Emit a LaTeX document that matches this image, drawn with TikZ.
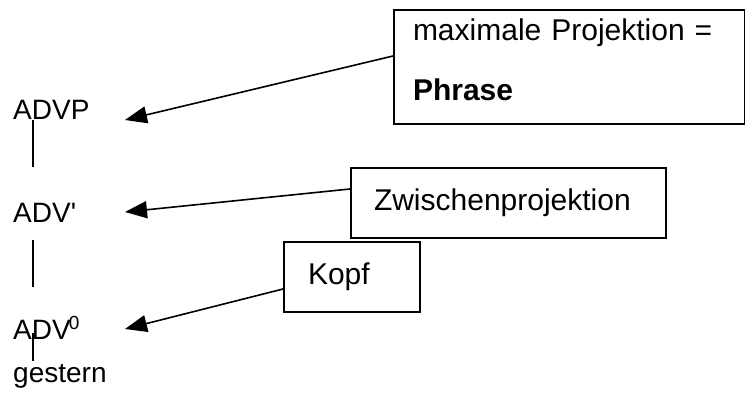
\documentclass[tikz,border=0pt]{standalone}
\usepackage{fontspec}
\setmainfont{Liberation Sans}
\usetikzlibrary{arrows.meta}

\tikzset{
  lbl/.style={anchor=base west, inner sep=0pt, font=\fontsize{28}{34}\selectfont},
  kasten/.style={draw, line width=2pt, anchor=north west, align=left, inner ysep=0pt, font=\fontsize{30}{36}\selectfont},
  zeiger/.style={line width=1.6pt, -{Triangle[length=22pt,width=17pt]}},
  ast/.style={line width=1.6pt}
}

\begin{document}
\begin{tikzpicture}[x=1pt,y=-1pt]
      \useasboundingbox (0,0) rectangle (745,398);
      \node(P) [lbl] at (13,120) {ADVP};
      \node(Bar) [lbl] at (13,223) {ADV\textquotesingle};
      \node(Null) [lbl] at (13,340) {ADV\kern-2pt\raisebox{10pt}{\fontsize{19}{20}\selectfont 0}};
      \node(G) [lbl] at (13,382) {gestern};

      \node(Max) [kasten, text width=313pt, inner xsep=19pt] at (393,9) {\rule{0pt}{31pt}maximale Projektion =\\[24pt]\textbf{Phrase}\rule[-23pt]{0pt}{0pt}};
      \node(Zw) [kasten, text width=269pt, inner xsep=23pt, minimum height=70pt] at (350,167) {Zwischenprojektion};
      \node(Kopf) [kasten, text width=88pt, inner xsep=24pt, minimum height=70pt] at (283,241) {Kopf};

      \coordinate(tP) at (125,120);
      \coordinate(tBar) at (125,212);
      \coordinate(tNull) at (125,329);

      \draw[ast]([xshift=20pt]P.base west) -- ([xshift=20pt,yshift=56pt]Bar.base west);
      \draw[ast]([xshift=20pt,yshift=-17pt]Bar.base west) -- ([xshift=20pt,yshift=53pt]Null.base west);
      \draw[ast]([xshift=20pt,yshift=7pt]Null.base west) -- ([xshift=20pt,yshift=21pt]G.base west);

      \draw[zeiger]([yshift=11pt]Max.west) -- (tP);
      \draw[zeiger]([yshift=14pt]Zw.west) -- (tBar);
      \draw[zeiger]([yshift=-12pt]Kopf.west) -- (tNull);
    \end{tikzpicture}
\end{document}
